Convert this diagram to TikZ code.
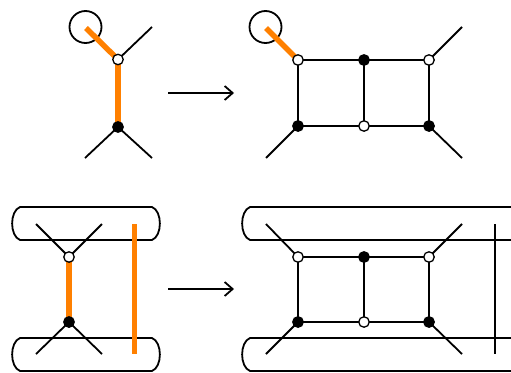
\documentclass[tikz,border=0pt]{standalone}
\usetikzlibrary{arrows.meta}
\definecolor{orng}{HTML}{FF8000}
\begin{document}
\begin{tikzpicture}[x=1pt,y=-1pt,
  edge/.style={line width=1.8pt,black},
  hot/.style={line width=5.5pt,orng},
  wv/.style={circle,draw,line width=1.3pt,fill=white,inner sep=0pt,minimum size=10.5pt},
  bv/.style={circle,draw,line width=1.3pt,fill=black,inner sep=0pt,minimum size=10.5pt},
  ring/.style={circle,draw,line width=1.8pt,inner sep=0pt,minimum size=32pt},
  pill/.style={line width=1.8pt,line join=round},
  tr/.style={line width=1.8pt,-{Straight Barb[length=8pt,width=14pt,line width=1.8pt]}}]
\clip (0,0) rectangle (511,372);
\fill[white] (0,0) rectangle (511,372);

% ---------- top left ----------
\node[ring] (r1) at (85.5,27) {};
\coordinate (o1) at (86,28);
\coordinate (a1) at (152,27);
\coordinate (a2) at (85,158);
\coordinate (a3) at (152,158);
\coordinate (v0) at (118,59.5);
\coordinate (v00) at (118,127);
\draw[hot] (o1) -- (v0);
\draw[hot] (v0) -- (v00);
\draw[edge] (v0) -- (a1);
\draw[edge] (v00) -- (a2);
\draw[edge] (v00) -- (a3);
\node[wv] (w1) at (v0) {};
\node[bv] (b1) at (v00) {};

% arrow top
\coordinate (p1) at (168,93);
\coordinate (p2) at (234,93);
\draw[tr] (p1) -- (p2);

% ---------- top right ----------
\node[ring] (r2) at (265.5,27) {};
\coordinate (o2) at (266,28);
\coordinate (c1) at (462,27);
\coordinate (c2) at (266,158);
\coordinate (c3) at (462,158);
\coordinate (q1) at (298,60);
\coordinate (q2) at (364,60);
\coordinate (q3) at (429,60);
\coordinate (q4) at (298,126);
\coordinate (q5) at (364,126);
\coordinate (q6) at (429,126);
\draw[hot] (o2) -- (q1);
\draw[edge] (q1) -- (q3) -- (q6) -- (q4) -- cycle;
\draw[edge] (q2) -- (q5);
\draw[edge] (q3) -- (c1);
\draw[edge] (q4) -- (c2);
\draw[edge] (q6) -- (c3);
\node[wv] (tw1) at (q1) {};
\node[bv] (tb1) at (q2) {};
\node[wv] (tw2) at (q3) {};
\node[bv] (tb2) at (q4) {};
\node[wv] (tw3) at (q5) {};
\node[bv] (tb3) at (q6) {};

% ---------- bottom left ----------
\draw[pill] (20,207) -- (152,207) .. controls (162.5,211) and (162.5,236) .. (152,240)
  -- (20,240) .. controls (9.5,236) and (9.5,211) .. (20,207) -- cycle;
\draw[pill] (20,338) -- (152,338) .. controls (162.5,342) and (162.5,367) .. (152,371)
  -- (20,371) .. controls (9.5,367) and (9.5,342) .. (20,338) -- cycle;
\coordinate (d1) at (36,224);
\coordinate (d2) at (102,224);
\coordinate (d3) at (36,354);
\coordinate (d4) at (102,354);
\coordinate (h1) at (134.5,224);
\coordinate (h2) at (134.5,354);
\coordinate (v1) at (69,257);
\coordinate (v2) at (69,322);
\draw[edge] (d1) -- (v1) -- (d2);
\draw[edge] (d3) -- (v2) -- (d4);
\draw[hot] (v1) -- (v2);
\draw[hot] (h1) -- (h2);
\node[wv] (lw) at (v1) {};
\node[bv] (lb) at (v2) {};

% arrow bottom
\coordinate (p3) at (168,289);
\coordinate (p4) at (234,289);
\draw[tr] (p3) -- (p4);

% ---------- bottom right ----------
\draw[pill] (530,207) -- (250,207) .. controls (239.5,211) and (239.5,236) .. (250,240) -- (530,240);
\draw[pill] (530,338) -- (250,338) .. controls (239.5,342) and (239.5,367) .. (250,371) -- (530,371);
\coordinate (e1) at (266,224);
\coordinate (e2) at (462,224);
\coordinate (e3) at (266,354);
\coordinate (e4) at (462,354);
\coordinate (k1) at (495,224);
\coordinate (k2) at (495,354);
\coordinate (s1) at (298,257);
\coordinate (s2) at (364,257);
\coordinate (s3) at (429,257);
\coordinate (s4) at (298,322);
\coordinate (s5) at (364,322);
\coordinate (s6) at (429,322);
\draw[edge] (s1) -- (s3) -- (s6) -- (s4) -- cycle;
\draw[edge] (s2) -- (s5);
\draw[edge] (s1) -- (e1);
\draw[edge] (s3) -- (e2);
\draw[edge] (s4) -- (e3);
\draw[edge] (s6) -- (e4);
\draw[edge] (k1) -- (k2);
\node[wv] (bw1) at (s1) {};
\node[bv] (bb1) at (s2) {};
\node[wv] (bw2) at (s3) {};
\node[bv] (bb2) at (s4) {};
\node[wv] (bw3) at (s5) {};
\node[bv] (bb3) at (s6) {};
\end{tikzpicture}
\end{document}
